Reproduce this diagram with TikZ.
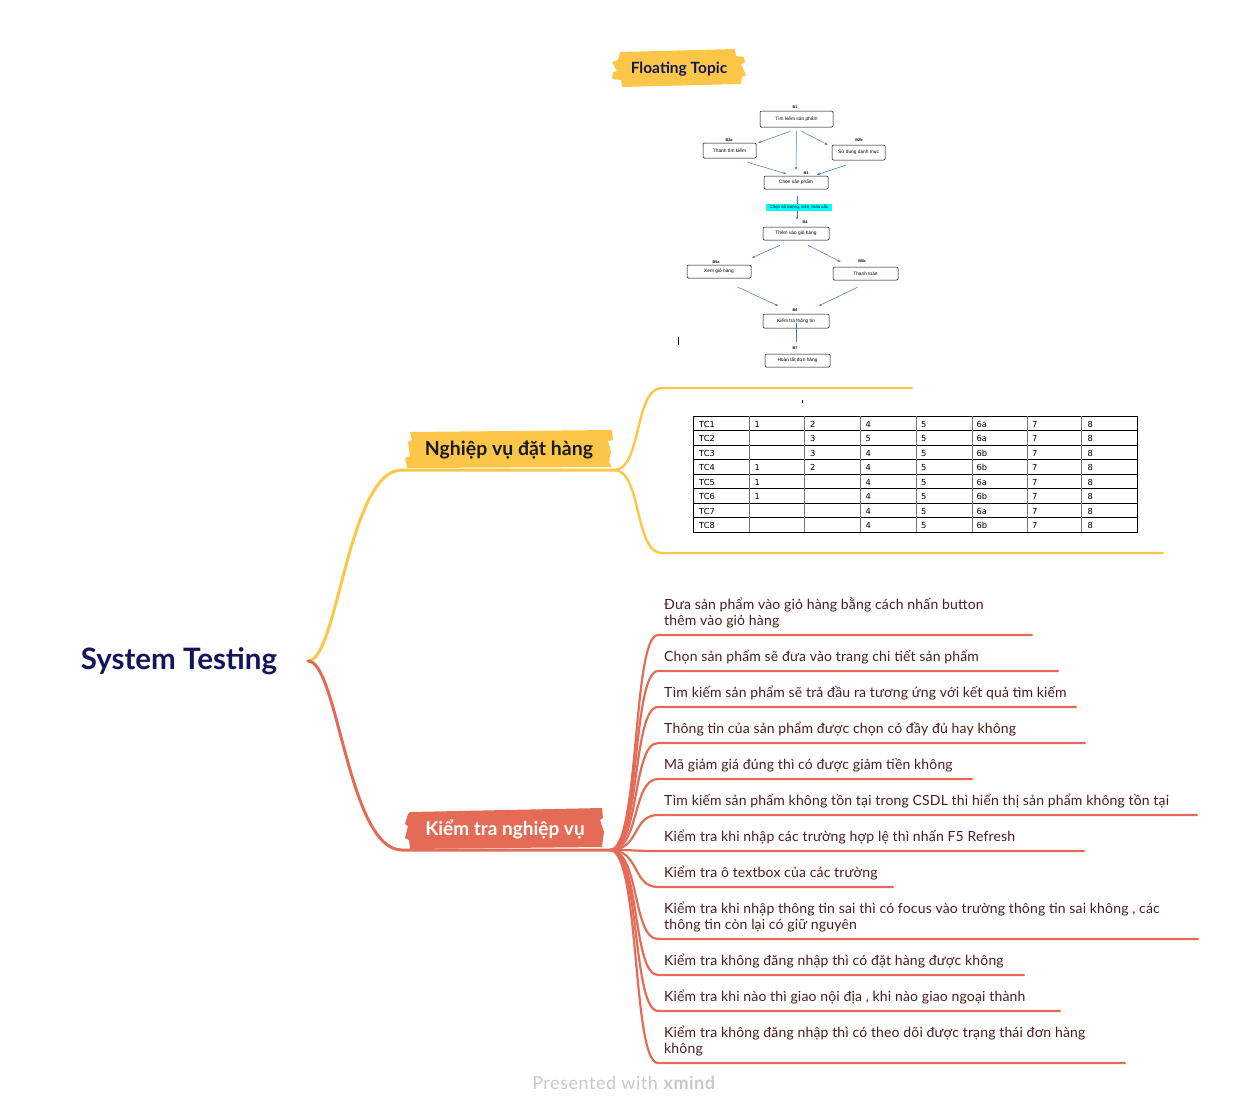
\documentclass[tikz,border=0pt]{standalone}
\usepackage{fontspec}
\setmainfont{Lato}
\newfontfamily\leaffont[LetterSpace=1.2]{Lato}
\newfontfamily\footfont[LetterSpace=3]{Lato}
\newfontfamily\tablefont{DejaVu Sans}
\newfontfamily\flowfont{Liberation Sans}
\usetikzlibrary{arrows.meta,calc}
\definecolor{navy}{RGB}{20,20,90}
\definecolor{ybr}{RGB}{252,199,72}
\definecolor{rbr}{RGB}{228,108,86}
\definecolor{ctext}{RGB}{74,30,30}
\definecolor{fblue}{RGB}{68,114,196}
\definecolor{foot}{RGB}{200,200,200}
\definecolor{darkt}{RGB}{25,25,35}
\definecolor{hcyan}{RGB}{0,255,255}
\tikzset{
  leaf/.style={anchor=base west, inner sep=0, text=ctext, font=\leaffont\fontsize{14}{16}\selectfont},
  rline/.style={draw=rbr, line width=2.2pt, line cap=round},
  yline/.style={draw=ybr, line width=2.4pt, line cap=round},
  fbox/.style={draw, rounded corners=1.2pt, line width=0.5pt, inner sep=0, font=\flowfont\fontsize{4.8}{5}\selectfont},
  flab/.style={inner sep=0, font=\flowfont\bfseries\fontsize{3.8}{4}\selectfont},
  farr/.style={draw=fblue, line width=0.5pt, -{Stealth[length=3pt,width=2.4pt]}},
  tcell/.style={anchor=base west, inner sep=0, font=\tablefont\fontsize{8.3}{10}\selectfont},
}
\begin{document}
\begin{tikzpicture}[x=1pt,y=-1pt]
\useasboundingbox (0,0) rectangle (1248,1114);

% ---------- root ----------
\node[inner sep=0, text=navy, font=\bfseries\fontsize{29.5}{32}\selectfont] (root) at (179,661) {System Testing};
\coordinate (rj) at (308,661);

% ---------- main branches ----------
\draw[yline, line width=3pt] (rj) .. controls (338,661) and (348,470) .. (402,470) -- (614,470);
\draw[rline, line width=3pt] (rj) .. controls (338,661) and (348,850) .. (402,850) -- (610,850);

% yellow label box
\fill[ybr] (410,432) -- (612,430) -- (613,440) -- (608,441) -- (611,452) -- (609,462) -- (612,467) -- (407,468) -- (405,458) -- (410,456) -- (408,442) -- (412,440) -- cycle;
\node[inner sep=0, text=darkt, font=\bfseries\fontsize{19.5}{21}\selectfont] (nv) at (509,450) {Nghiệp vụ đặt hàng};

% red label box
\fill[rbr] (410,812) -- (602,808) -- (603,818) -- (600,820) -- (604,832) -- (602,847) -- (410,849) -- (409,840) -- (405,838) -- (408,826) -- (405,824) -- (408,814) -- cycle;
\node[inner sep=0, text=white, font=\bfseries\fontsize{19}{21}\selectfont] (kt) at (505,829) {Kiểm tra nghiệp vụ};

% floating topic
\fill[ybr] (620,52) -- (735,49) -- (736,56) -- (744,57) -- (745,63) -- (741,64) -- (746,75) -- (742,77) -- (741,84) -- (622,87) -- (621,80) -- (612,79) -- (613,72) -- (617,71) -- (612,62) -- (618,60) -- cycle;
\node[inner sep=0, text=navy, font=\bfseries\fontsize{15.5}{17}\selectfont] (ft) at (679,69) {Floating Topic};

% ---------- yellow children ----------
\coordinate (nf) at (614,470);
\coordinate (img1) at (662,388);
\coordinate (img2) at (662,553);
\draw[yline] (nf) .. controls (642,470) and (634,388) .. (img1) -- (912,388);
\draw[yline] (nf) .. controls (642,470) and (634,553) .. (img2) -- (1163,553);

% ---------- flowchart ----------
\node[fbox, minimum width=73, minimum height=16] (fb1) at (796.5,119) {Tìm kiếm sản phẩm};
\node[fbox, minimum width=53, minimum height=15] (fb2a) at (729.5,150.5) {Thanh tìm kiếm};
\node[fbox, minimum width=53, minimum height=15] (fb2b) at (858.5,152.5) {Sử dụng danh mục};
\node[fbox, minimum width=64, minimum height=13] (fb3) at (796,182.5) {Chọn sản phẩm};
\node[fbox, minimum width=66, minimum height=13] (fb4) at (796,233.5) {Thêm vào giỏ hàng};
\node[fbox, minimum width=64, minimum height=13] (fb5a) at (719,271.5) {Xem giỏ hàng};
\node[fbox, minimum width=65, minimum height=13] (fb5b) at (865.5,273.5) {Thanh toán};
\node[fbox, minimum width=66, minimum height=14] (fb6) at (796,321) {Kiểm tra thông tin};
\node[fbox, minimum width=65, minimum height=13] (fb7) at (797.5,360.5) {Hoàn tất đơn hàng};

\node[flab] (lb1) at (795,107) {B1};
\node[flab] (lb2a) at (729,140) {B2a};
\node[flab] (lb2b) at (859,140) {B2b};
\node[flab] (lb3) at (806,173) {B3};
\node[flab] (lb4) at (805,222) {B4};
\node[flab] (lb5a) at (716,262) {B5a};
\node[flab] (lb5b) at (862,261) {B5b};
\node[flab] (lb6) at (795,310) {B6};
\node[flab] (lb7) at (795,348) {B7};

\draw[farr] ($(fb1.south)+(-6,4)$) -- ($(fb2a.north east)+(2,0)$);
\draw[farr] ($(fb1.south)+(0,4)$) -- ($(fb3.north)+(0,-6)$);
\draw[farr] ($(fb1.south)+(5,4)$) -- ($(fb2b.north west)+(-4,0)$);
\draw[farr] ($(fb2a.south)+(18,4)$) -- ($(fb3.north)+(-10,-2)$);
\draw[farr] ($(fb2b.south)+(-13,5)$) -- ($(fb3.north)+(21,-1)$);
\draw[farr] ($(fb3.south)+(1,7)$) -- ($(fb4.north)+(1,-7)$);
\node[fill=hcyan, inner sep=0, minimum width=66, minimum height=7, font=\flowfont\fontsize{4.4}{5}\selectfont] (cl) at (799,207.5) {Chọn số lượng, size, màu sắc};
\draw[farr] ($(fb4.south)+(-16,5)$) -- ($(fb5a.north)+(33,-7)$);
\draw[farr] ($(fb4.south)+(12,5)$) -- ($(fb5b.north)+(-25,-5)$);
\draw[farr] ($(fb5a.south)+(19,9)$) -- ($(fb6.north)+(-18,-8)$);
\draw[farr] ($(fb5b.south)+(-8,7)$) -- ($(fb6.north)+(23,-8)$);
\draw[draw=fblue, line width=0.5pt] ($(fb6.center)+(0,2)$) -- ($(fb7.north)+(-1.5,-12)$);
\draw[line width=0.8pt] (678,337) -- (678,345);
\draw[line width=0.5pt] (802,400) -- (802,403);

% ---------- table ----------
\draw[line width=0.8pt] (693,416) rectangle (1137,532);
\foreach \k in {1,...,7} { \draw[line width=0.7pt] (693,{416+14.5*\k}) -- (1137,{416+14.5*\k}); }
\foreach \cx in {749,804,860,916,972,1027,1081} { \draw[line width=0.6pt, black!55] (\cx,416) -- (\cx,532); }
\foreach \r/\row in {1/{TC1,1,2,4,5,6a,7,8}, 2/{TC2,,3,5,5,6a,7,8}, 3/{TC3,,3,4,5,6b,7,8}, 4/{TC4,1,2,4,5,6b,7,8}, 5/{TC5,1,,4,5,6a,7,8}, 6/{TC6,1,,4,5,6b,7,8}, 7/{TC7,,,4,5,6a,7,8}, 8/{TC8,,,4,5,6b,7,8}} {
  \foreach \v [count=\c from 0] in \row {
    \node[tcell] (t\r-\c) at ({699+55.5*\c}, {427+14.5*(\r-1)}) {\v};
  }
}

% ---------- red children ----------
\coordinate (kf) at (610,850);
\foreach \i/\yy/\ee in {1/635/1032, 2/671/1058, 3/707/1076, 4/743/1085, 5/779/972, 6/815/1197, 7/851/1084, 8/887/893, 9/939/1198, 10/975/1024, 11/1011/1060, 12/1063/1125} {
  \coordinate (u\i) at (658,\yy);
  \draw[rline] (kf) .. controls (640,850) and (632,\yy) .. (u\i) -- (\ee,\yy);
}
\node[leaf] (k1a) at (664,609) {Đưa sản phẩm vào giỏ hàng bằng cách nhấn button};
\node[leaf] (k1b) at (664,625) {thêm vào giỏ hàng};
\node[leaf] (k2) at (664,661) {Chọn sản phẩm sẽ đưa vào trang chi tiết sản phẩm};
\node[leaf] (k3) at (664,697) {Tìm kiếm sản phẩm sẽ trả đầu ra tương ứng với kết quả tìm kiếm};
\node[leaf] (k4) at (664,733) {Thông tin của sản phẩm được chọn có đầy đủ hay không};
\node[leaf] (k5) at (664,769) {Mã giảm giá đúng thì có được giảm tiền không};
\node[leaf] (k6) at (664,805) {Tìm kiếm sản phẩm không tồn tại trong CSDL thì hiển thị sản phẩm không tồn tại};
\node[leaf] (k7) at (664,841) {Kiểm tra khi nhập các trường hợp lệ thì nhấn F5 Refresh};
\node[leaf] (k8) at (664,877) {Kiểm tra ô textbox của các trường};
\node[leaf] (k9a) at (664,913) {Kiểm tra khi nhập thông tin sai thì có focus vào trường thông tin sai không , các};
\node[leaf] (k9b) at (664,929) {thông tin còn lại có giữ nguyên};
\node[leaf] (k10) at (664,965) {Kiểm tra không đăng nhập thì có đặt hàng được không};
\node[leaf] (k11) at (664,1001) {Kiểm tra khi nào thì giao nội địa , khi nào giao ngoại thành};
\node[leaf] (k12a) at (664,1037) {Kiểm tra không đăng nhập thì có theo dõi được trạng thái đơn hàng};
\node[leaf] (k12b) at (664,1053) {không};

% ---------- footer ----------
\node[inner sep=0, text=foot, font=\footfont\fontsize{18}{20}\selectfont] (foot) at (624,1083) {Presented with \textbf{xmind}};
\end{tikzpicture}
\end{document}
